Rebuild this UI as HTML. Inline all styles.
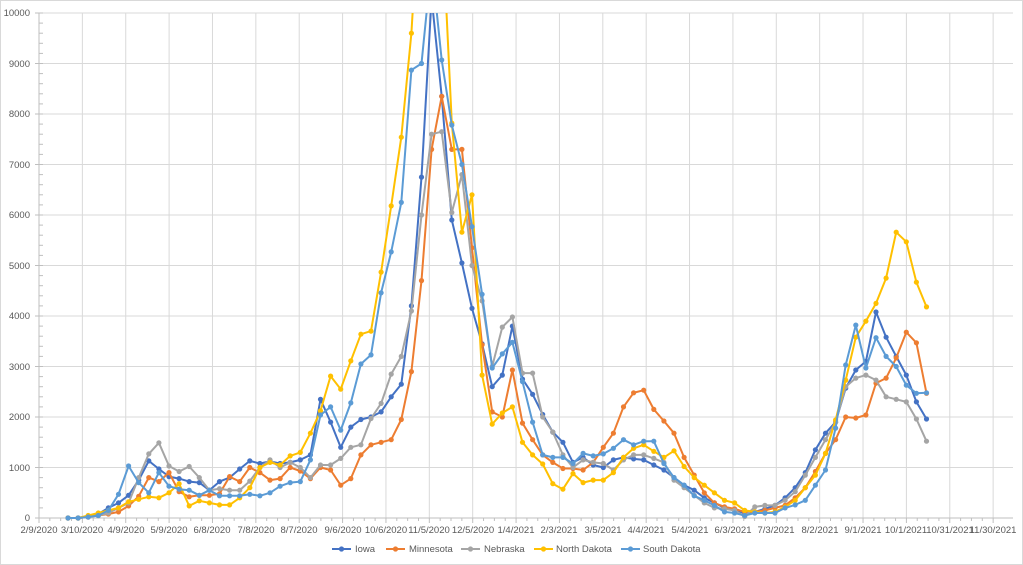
<!DOCTYPE html>
<html><head><meta charset="utf-8"><style>
html,body{margin:0;padding:0;background:#fff;}
svg{display:block;font-family:"Liberation Sans",sans-serif;}
</style></head><body>
<svg id="c" width="1023" height="565" viewBox="0 0 1023 565" xmlns="http://www.w3.org/2000/svg">
<rect x="0.5" y="0.5" width="1022" height="564" fill="#fff" stroke="#d9d9d9"/>
<g id="grid" stroke="#d9d9d9" stroke-width="1"></g>
<g id="ticks" stroke="#bfbfbf" stroke-width="1"></g>
<g font-size="9.5" fill="#595959" text-anchor="end">
<text x="30" y="521">0</text><text x="30" y="471">1000</text><text x="30" y="420">2000</text><text x="30" y="370">3000</text><text x="30" y="319">4000</text><text x="30" y="269">5000</text><text x="30" y="218">6000</text><text x="30" y="168">7000</text><text x="30" y="117">8000</text><text x="30" y="67">9000</text><text x="30" y="16">10000</text>
</g>
<g font-size="9.5" fill="#595959" text-anchor="middle">
<text x="39" y="533">2/9/2020</text><text x="82" y="533">3/10/2020</text><text x="126" y="533">4/9/2020</text><text x="169" y="533">5/9/2020</text><text x="212" y="533">6/8/2020</text><text x="256" y="533">7/8/2020</text><text x="299" y="533">8/7/2020</text><text x="343" y="533">9/6/2020</text><text x="386" y="533">10/6/2020</text><text x="429" y="533">11/5/2020</text><text x="473" y="533">12/5/2020</text><text x="516" y="533">1/4/2021</text><text x="559" y="533">2/3/2021</text><text x="603" y="533">3/5/2021</text><text x="646" y="533">4/4/2021</text><text x="690" y="533">5/4/2021</text><text x="733" y="533">6/3/2021</text><text x="776" y="533">7/3/2021</text><text x="820" y="533">8/2/2021</text><text x="863" y="533">9/1/2021</text><text x="906" y="533">10/1/2021</text><text x="950" y="533">10/31/2021</text><text x="993" y="533">11/30/2021</text>
</g>
<defs><clipPath id="cp"><rect x="36" y="13" width="980" height="512"/></clipPath></defs>
<g id="series" clip-path="url(#cp)"></g>
<g font-size="9.5" fill="#595959">
<line x1="332" y1="549" x2="351" y2="549" stroke="#4472C4" stroke-width="2"/><circle cx="341.5" cy="549" r="2.6" fill="#4472C4"/><text x="355" y="552">Iowa</text>
<line x1="386" y1="549" x2="405" y2="549" stroke="#ED7D31" stroke-width="2"/><circle cx="395.5" cy="549" r="2.6" fill="#ED7D31"/><text x="409" y="552">Minnesota</text>
<line x1="461" y1="549" x2="480" y2="549" stroke="#A5A5A5" stroke-width="2"/><circle cx="470.5" cy="549" r="2.6" fill="#A5A5A5"/><text x="484" y="552">Nebraska</text>
<line x1="534" y1="549" x2="553" y2="549" stroke="#FFC000" stroke-width="2"/><circle cx="543.5" cy="549" r="2.6" fill="#FFC000"/><text x="556" y="552">North Dakota</text>
<line x1="621" y1="549" x2="640" y2="549" stroke="#5B9BD5" stroke-width="2"/><circle cx="630.5" cy="549" r="2.6" fill="#5B9BD5"/><text x="643" y="552">South Dakota</text>
</g>
</svg>
<script>
(function(){
var NS="http://www.w3.org/2000/svg";
function el(n,a,p){var e=document.createElementNS(NS,n);for(var k in a)e.setAttribute(k,a[k]);p.appendChild(e);return e;}
var g=document.getElementById('grid'),t=document.getElementById('ticks'),s=document.getElementById('series');
var X0=39,DX=43.37,Y0=518,PY=50.5;
for(var i=0;i<=10;i++){var y=Y0-i*PY;el('line',{x1:X0,y1:y,x2:1013,y2:y},g);}
for(var k=1;k<=22;k++){var x=X0+k*DX;el('line',{x1:x,y1:13,x2:x,y2:Y0},g);}
el('line',{x1:X0,y1:13,x2:X0,y2:Y0},t);
el('line',{x1:X0,y1:Y0,x2:1013,y2:Y0},t);
for(var i=0;i<=50;i++){var y=Y0-i*PY/5;el('line',{x1:(i%5==0?35:X0),y1:y,x2:X0+4,y2:y},t);}
for(var k=0;k<=88;k++){var x=X0+k*DX/4;el('line',{x1:x,y1:Y0,x2:x,y2:Y0+(k%4==0?5:3)},t);}
var D={
"#4472C4":[0,0,0.02,0.08,0.2,0.3,0.45,0.75,1.13,0.97,0.82,0.78,0.72,0.7,0.55,0.72,0.8,0.97,1.13,1.08,1.12,1.08,1.1,1.15,1.25,2.35,1.9,1.4,1.8,1.95,2.0,2.1,2.4,2.65,4.2,6.75,10.3,8.35,5.9,5.05,4.15,3.45,2.6,2.83,3.8,2.75,2.45,2.05,1.7,1.5,1.1,1.2,1.05,1.0,1.15,1.2,1.17,1.15,1.05,0.95,0.8,0.65,0.55,0.4,0.3,0.2,0.15,0.1,0.12,0.18,0.25,0.4,0.6,0.9,1.35,1.68,1.9,2.57,2.93,3.1,4.08,3.58,3.2,2.83,2.3,1.96],
"#ED7D31":[0,0,0.02,0.05,0.08,0.12,0.24,0.43,0.8,0.72,0.9,0.52,0.42,0.45,0.45,0.48,0.82,0.72,1.0,0.9,0.75,0.78,1.0,0.93,0.78,1.0,0.95,0.65,0.78,1.25,1.45,1.5,1.55,1.95,2.9,4.7,7.3,8.35,7.3,7.3,5.35,3.43,2.1,2.0,2.93,1.88,1.55,1.25,1.1,0.98,0.98,0.95,1.1,1.4,1.68,2.2,2.48,2.53,2.15,1.92,1.68,1.2,0.85,0.5,0.3,0.22,0.18,0.12,0.12,0.15,0.2,0.25,0.4,0.6,0.92,1.28,1.55,2.0,1.98,2.04,2.67,2.77,3.17,3.68,3.47,2.47],
"#A5A5A5":[0,0,0.02,0.05,0.1,0.2,0.3,0.8,1.27,1.49,1.03,0.92,1.02,0.8,0.55,0.58,0.55,0.55,0.73,1.0,1.15,1.0,1.1,1.0,0.8,1.05,1.05,1.18,1.4,1.45,1.97,2.27,2.85,3.2,4.1,6.0,7.6,7.65,6.05,6.8,5.0,4.3,3.0,3.78,3.98,2.87,2.87,2.0,1.7,1.25,1.0,1.15,1.1,1.08,0.95,1.15,1.25,1.25,1.18,1.1,0.75,0.6,0.45,0.3,0.2,0.18,0.15,0.03,0.22,0.25,0.25,0.35,0.52,0.85,1.2,1.55,1.9,2.6,2.77,2.83,2.73,2.4,2.35,2.3,1.96,1.52],
"#FFC000":[0,0,0.05,0.1,0.15,0.2,0.32,0.37,0.42,0.4,0.5,0.68,0.24,0.34,0.3,0.26,0.26,0.4,0.6,1.0,1.1,1.05,1.23,1.3,1.68,2.12,2.81,2.55,3.11,3.64,3.7,4.87,6.18,7.54,9.6,13,14,12,7.82,5.66,6.4,2.83,1.86,2.08,2.2,1.5,1.25,1.07,0.68,0.57,0.88,0.7,0.75,0.75,0.9,1.2,1.38,1.45,1.32,1.2,1.33,1.02,0.8,0.65,0.5,0.35,0.3,0.15,0.12,0.1,0.12,0.22,0.35,0.6,0.85,1.28,1.94,2.73,3.58,3.9,4.25,4.75,5.66,5.47,4.67,4.18],
"#5B9BD5":[0,0,0.02,0.05,0.15,0.47,1.03,0.7,0.5,0.9,0.63,0.57,0.55,0.45,0.55,0.44,0.44,0.44,0.47,0.44,0.5,0.63,0.7,0.72,1.15,2.04,2.2,1.74,2.28,3.05,3.23,4.46,5.27,6.25,8.87,9.0,11,9.07,7.78,7.0,5.77,4.43,2.97,3.25,3.48,2.7,1.9,1.25,1.2,1.2,1.08,1.28,1.23,1.27,1.38,1.55,1.45,1.52,1.52,1.08,0.8,0.65,0.44,0.35,0.25,0.12,0.1,0.05,0.1,0.1,0.1,0.2,0.26,0.35,0.65,0.95,1.78,3.03,3.82,2.97,3.57,3.2,3.0,2.63,2.47,2.48]
};
for(var c in D){var v=D[c],pts=[];
 var gg=el('g',{},s);
 for(var i=0;i<v.length;i++){pts.push((68+10.1*i).toFixed(1)+","+(Y0-v[i]*PY).toFixed(1));}
 el('polyline',{points:pts.join(" "),fill:"none",stroke:c,"stroke-width":2,"stroke-linejoin":"round"},gg);
 for(var i=0;i<v.length;i++){el('circle',{cx:(68+10.1*i).toFixed(1),cy:(Y0-v[i]*PY).toFixed(1),r:2.6,fill:c},gg);}
}
})();
</script>
</body></html>
